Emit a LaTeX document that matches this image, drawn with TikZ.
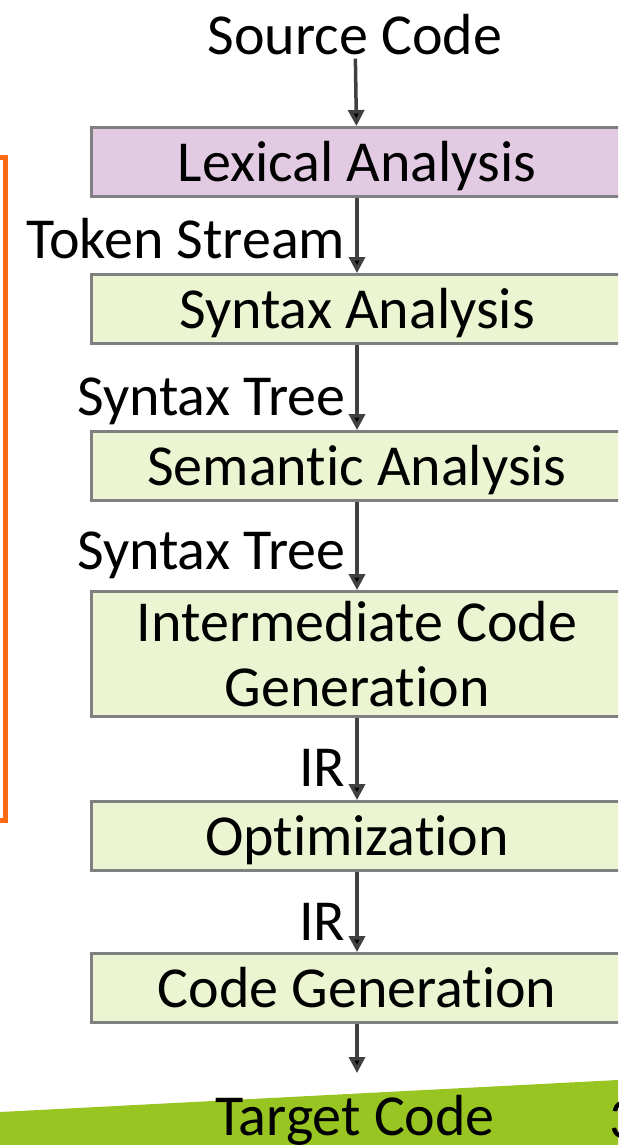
\documentclass[tikz,border=0pt]{standalone}
\usepackage{fontspec}
\setmainfont{Carlito}[Ligatures=CommonOff]
\usetikzlibrary{arrows.meta}
\definecolor{lexfill}{HTML}{E2CBE2}
\definecolor{stagefill}{HTML}{EBF5D2}
\definecolor{boxline}{HTML}{808080}
\definecolor{arrowgray}{HTML}{404040}
\definecolor{bracketorange}{HTML}{FF6A13}
\definecolor{bandgreen}{HTML}{99C523}

\begin{document}
\begin{tikzpicture}[x=1pt,y=-1pt,
  every node/.style={font=\fontsize{58}{65}\selectfont,inner sep=3pt},
  stage/.style={draw=boxline,line width=3pt,fill=stagefill,minimum width=531pt,minimum height=69pt,inner sep=0pt},
  onerow/.style={stage,text height=51pt,text depth=12pt},
  tworow/.style={stage,align=center,minimum height=125pt},
  flow/.style={draw=arrowgray,line width=3.5pt,-{Triangle[length=16pt,width=16pt]}},
  lbl/.style={anchor=base east,inner sep=0pt,xshift=-10pt}]
\useasboundingbox (0,0) rectangle (618,1145);
\clip (0,0) rectangle (618,1145);
\fill[bandgreen] (0,1112) -- (618,1080) -- (618,1145) -- (0,1145) -- cycle;
\draw[bracketorange,line width=5pt] (-5,157) -- (5.5,157) -- (5.5,820) -- (-5,820);
\node (src) at (355,35) {Source Code};
\node[onerow,fill=lexfill] (lex) at (357,162) {Lexical Analysis};
\node[onerow] (syn) at (357,309) {Syntax Analysis};
\node[onerow] (sem) at (357,466) {Semantic Analysis};
\node[tworow] (icg) at (357,654) {Intermediate Code\\Generation};
\node[onerow] (opt) at (357,836) {Optimization};
\node[onerow] (cg) at (357,988) {Code Generation};
\coordinate (out) at (357,1073);
\node (tgt) at (355,1120) {Target Code};
\node[anchor=west] (pg) at (606,1120) {3};
\path[flow]
(src) edge (lex)
(lex) edge node[lbl,pos=0.8]{Token Stream} (syn)
(syn) edge node[lbl,pos=0.83]{Syntax Tree} (sem)
(sem) edge node[lbl,pos=0.77]{Syntax Tree} (icg)
(icg) edge node[lbl,pos=0.84]{IR} (opt)
(opt) edge node[lbl,pos=0.86]{IR} (cg)
(cg) edge (out)
;
\end{tikzpicture}
\end{document}
